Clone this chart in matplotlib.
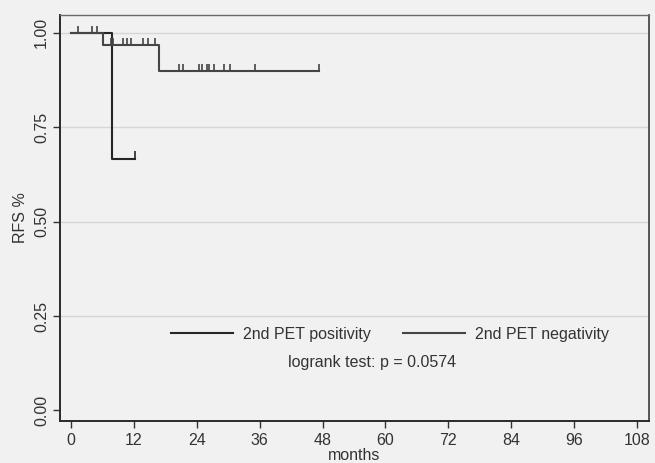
import numpy as np
import matplotlib
matplotlib.use("Agg")
import matplotlib.pyplot as plt

plt.rcParams["font.family"] = ["Liberation Sans", "DejaVu Sans"]

# Kaplan-Meier steps (months, RFS)
pos_times = [0, 7.8, 12.2]
pos_surv = [1.0, 0.667, 0.667]
pos_censor = [12.2]

neg_times = [0, 6.1, 16.8, 47.4]
neg_surv = [1.0, 0.968, 0.899, 0.899]
neg_censor = [1.3, 4.0, 4.9, 7.6, 8.1, 10.0, 10.7, 11.5, 13.7, 14.6, 16.0,
              20.6, 21.4, 24.5, 25.0, 25.9, 26.3, 27.2, 29.2, 30.3, 35.2, 47.4]

x_ticks = [0, 12, 24, 36, 48, 60, 72, 84, 96, 108]
y_ticks = [0.0, 0.25, 0.5, 0.75, 1.0]
y_labels = ["0.00", "0.25", "0.50", "0.75", "1.00"]

bg = "#f1f1f1"
fig = plt.figure(figsize=(6.55, 4.63), dpi=100, facecolor=bg)
ax = fig.add_axes([60 / 655, 1 - 421 / 463, 589 / 655, 406 / 463])
ax.set_facecolor(bg)

for y in y_ticks[1:]:
    ax.axhline(y, color="#d6d6d6", lw=1.0, zorder=0)


def surv_at(times, surv, t):
    i = np.searchsorted(times, t, side="right") - 1
    return surv[i]


def km(times, surv, censor, color, label):
    ax.step(times, surv, where="post", color=color, lw=1.5, label=label)
    s = [surv_at(times, surv, c) for c in censor]
    ax.vlines(censor, np.array(s) - 0.003, np.array(s) + 0.019, color=color, lw=1.2)


km(pos_times, pos_surv, pos_censor, "#262626", "2nd PET positivity")
km(neg_times, neg_surv, neg_censor, "#454545", "2nd PET negativity")

ax.set_xlim(-2.1, 110.3)
ax.set_ylim(-0.028, 1.047)
ax.set_xticks(x_ticks)
ax.set_yticks(y_ticks)
ax.set_yticklabels(y_labels, rotation=90, va="center")
ax.tick_params(axis="both", labelsize=11.5, colors="#333333", length=5, width=1.0)
ax.tick_params(axis="y", pad=3)

for side in ["left", "bottom"]:
    ax.spines[side].set_color("#2a2a2a")
    ax.spines[side].set_linewidth(1.4)
ax.spines["top"].set_color("#6a6a6a")
ax.spines["right"].set_color("#3a3a3a")
ax.spines["top"].set_linewidth(1.0)
ax.spines["right"].set_linewidth(1.2)

ax.set_ylabel("RFS %", fontsize=11.5, color="#333333", labelpad=4)
ax.set_xlabel("months", fontsize=11.5, color="#333333", labelpad=0)

leg = ax.legend(loc="center", bbox_to_anchor=(0.56, 0.214), ncol=2, frameon=False,
                fontsize=11.5, handlelength=3.9, handletextpad=0.6, columnspacing=2.0)
for t in leg.get_texts():
    t.set_color("#333333")
ax.text(0.53, 0.143, "logrank test: p = 0.0574", transform=ax.transAxes,
        ha="center", va="center", fontsize=11.5, color="#333333")

fig.savefig("out.png", dpi=100, facecolor=bg)
